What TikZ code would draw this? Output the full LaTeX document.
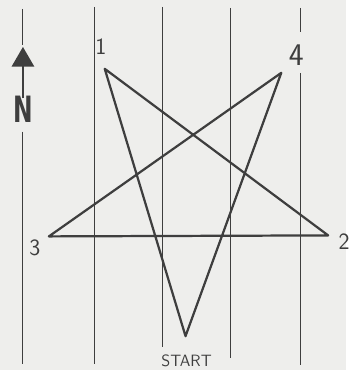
\documentclass[tikz,border=0pt]{standalone}
\usepackage{tikz}
\usepackage{fontspec}
\usetikzlibrary{arrows.meta}
\newfontfamily\heavysans{DejaVu Sans}
\definecolor{mypaper}{RGB}{238,238,236}
\definecolor{mypencil}{RGB}{62,62,62}

\begin{document}
\begin{tikzpicture}[x=0.03cm,y=-0.03cm]

\fill[mypaper] (0,0) rectangle (347,371);

% grid lines
\foreach \x/\ya/\yb in {23/132/365,95/7/365,163/7/348,231/8/359,301/73/366}{
  \draw[mypencil,line width=0.9pt] (\x,\ya) -- (\x,\yb);
}
\draw[mypencil,line width=0.9pt] (23,9) -- (23,45);
\draw[mypencil,line width=0.9pt] (301,8) -- (301,32);

% north arrow
\node[mypencil,font=\heavysans\bfseries\fontsize{20}{20}\selectfont,yscale=1.55,inner sep=0pt] (north) at (23,110) {N};
\coordinate (tip) at (23,47);
\draw[mypencil,line width=2.4pt,-{Triangle[length=17pt,width=19pt]}] ([yshift=-2pt]north.north) -- (tip);

% star
\coordinate (start) at (186,337);
\coordinate (v1) at (105,69);
\coordinate (v2) at (329,236);
\coordinate (v3) at (49,237);
\coordinate (v4) at (282,73);
\draw[mypencil,line width=1.9pt,line join=round]
  (start) -- (v1) -- (v2) -- (v3) -- (v4) -- cycle;

\node[mypencil,font=\sffamily\fontsize{20}{20}\selectfont] (l1) at (101,47) {1};
\node[mypencil,font=\sffamily\fontsize{27}{27}\selectfont] (l4) at (297,55) {4};
\node[mypencil,font=\sffamily\fontsize{20}{20}\selectfont] (l3) at (35,248) {3};
\node[mypencil,font=\sffamily\fontsize{20}{20}\selectfont] (l2) at (345,242) {2};
\node[mypencil,font=\sffamily\fontsize{14}{14}\selectfont] (lstart) at (187,362) {START};

\end{tikzpicture}
\end{document}
